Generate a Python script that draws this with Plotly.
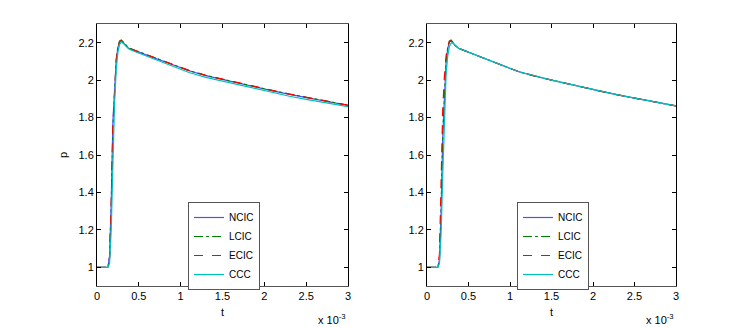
import plotly.graph_objects as go

# time in units of 1e-3 s
t_ms = [0, 0.10, 0.13, 0.15, 0.17, 0.19, 0.21, 0.23, 0.25, 0.27, 0.29, 0.31, 0.34, 0.38,
        0.45, 0.55, 0.7, 0.9, 1.1, 1.3, 1.5, 1.7, 1.9, 2.1, 2.3, 2.5, 2.7, 2.85, 3.0]

# left panel
left_ncic = [1.0, 1.0, 1.0, 1.06, 1.35, 1.78, 1.98, 2.11, 2.175, 2.205, 2.21, 2.20, 2.185, 2.17,
             2.158, 2.142, 2.118, 2.083, 2.05, 2.024, 2.003, 1.982, 1.961, 1.943, 1.924, 1.907, 1.891, 1.878, 1.865]
left_lcic = [1.0, 1.0, 1.0, 1.05, 1.32, 1.74, 1.97, 2.11, 2.18, 2.21, 2.215, 2.205, 2.187, 2.172,
             2.16, 2.143, 2.119, 2.084, 2.051, 2.025, 2.004, 1.983, 1.963, 1.944, 1.926, 1.909, 1.892, 1.879, 1.866]
left_ecic = [1.0, 1.0, 1.0, 1.05, 1.33, 1.76, 1.97, 2.10, 2.175, 2.205, 2.212, 2.202, 2.186, 2.171,
             2.159, 2.143, 2.12, 2.085, 2.052, 2.026, 2.005, 1.984, 1.963, 1.944, 1.925, 1.908, 1.892, 1.879, 1.866]
left_ccc = [1.0, 1.0, 1.0, 1.02, 1.20, 1.55, 1.88, 2.06, 2.15, 2.19, 2.205, 2.198, 2.182, 2.166,
            2.153, 2.136, 2.111, 2.075, 2.041, 2.015, 1.994, 1.973, 1.952, 1.933, 1.914, 1.897, 1.882, 1.87, 1.858]

# right panel
right_ncic = [1.0, 1.0, 1.0, 1.04, 1.30, 1.70, 1.95, 2.10, 2.17, 2.205, 2.212, 2.20, 2.185, 2.17,
              2.158, 2.14, 2.115, 2.08, 2.046, 2.021, 2.0, 1.98, 1.959, 1.94, 1.921, 1.904, 1.888, 1.875, 1.862]
right_lcic = [1.0, 1.0, 1.0, 1.04, 1.31, 1.72, 1.96, 2.10, 2.175, 2.21, 2.215, 2.202, 2.186, 2.17,
              2.158, 2.14, 2.115, 2.08, 2.046, 2.021, 2.0, 1.98, 1.959, 1.94, 1.921, 1.904, 1.888, 1.875, 1.862]
right_ecic = [1.0, 1.0, 1.0, 1.07, 1.45, 1.85, 2.02, 2.13, 2.185, 2.205, 2.21, 2.20, 2.184, 2.17,
              2.158, 2.14, 2.115, 2.08, 2.046, 2.021, 2.0, 1.98, 1.959, 1.94, 1.921, 1.904, 1.888, 1.875, 1.862]
right_ccc = [1.0, 1.0, 1.0, 1.02, 1.18, 1.50, 1.82, 2.03, 2.13, 2.18, 2.198, 2.20, 2.186, 2.17,
             2.158, 2.14, 2.115, 2.08, 2.046, 2.021, 2.0, 1.98, 1.959, 1.94, 1.921, 1.904, 1.888, 1.875, 1.862]

names = ["NCIC", "LCIC", "ECIC", "CCC"]
x_ticks = [0, 0.5, 1, 1.5, 2, 2.5, 3]
x_tick_text = ["0", "0.5", "1", "1.5", "2", "2.5", "3"]
y_ticks = [1, 1.2, 1.4, 1.6, 1.8, 2, 2.2]
y_tick_text = ["1", "1.2", "1.4", "1.6", "1.8", "2", "2.2"]

styles = [
    {"color": "#5050ff", "dash": "solid"},
    {"color": "#008000", "dash": "dashdot"},
    {"color": "#ff0000", "dash": "dash"},
    {"color": "#00bfbf", "dash": "solid"},
]

W, H = 747, 327
OFF = 8  # page body margin in the screenshot
FONT = "Liberation Sans, Arial, sans-serif"


def px(x):
    return (x - OFF) / W


def py(y):
    return 1 - (y - OFF) / H


fig = go.Figure()
panels = [
    ("x", "y", "legend", [left_ncic, left_lcic, left_ecic, left_ccc]),
    ("x2", "y2", "legend2", [right_ncic, right_lcic, right_ecic, right_ccc]),
]
for xa, ya, leg, series in panels:
    for name, values, style in zip(names, series, styles):
        fig.add_trace(go.Scatter(
            x=t_ms, y=values, name=name, mode="lines",
            line={"color": style["color"], "dash": style["dash"], "width": 1.2},
            xaxis=xa, yaxis=ya, legend=leg,
        ))

axis_common = dict(
    showgrid=False, zeroline=False, showline=True, linewidth=1, automargin=False,
    ticks="inside", ticklen=4, tickcolor="black", mirror="ticks",
    tickfont={"size": 11, "color": "black", "family": FONT},
)

x1 = [px(97), px(348)]
x2 = [px(427), px(676)]
ydom = [py(286), py(24)]

legend_common = dict(
    bgcolor="white", bordercolor="#555555", borderwidth=1,
    font={"size": 10, "color": "black", "family": FONT},
    itemwidth=30, tracegroupgap=0, xanchor="left", yanchor="top",
)

fig.update_layout(
    width=W, height=H,
    margin={"l": 0, "r": 0, "t": 0, "b": 0},
    paper_bgcolor="white", plot_bgcolor="white",
    font={"family": FONT, "color": "black", "size": 11},
    xaxis={**axis_common, "domain": x1, "range": [0, 3], "tickvals": x_ticks,
           "ticktext": x_tick_text, "linecolor": "#555555", "anchor": "y",
           "title": {"text": "t", "font": {"size": 11}, "standoff": 7}},
    yaxis={**axis_common, "domain": ydom, "range": [0.9, 2.3], "tickvals": y_ticks,
           "ticktext": y_tick_text, "linecolor": "black", "anchor": "x",
           "title": {"text": "p", "font": {"size": 11}, "standoff": 8}},
    xaxis2={**axis_common, "domain": x2, "range": [0, 3], "tickvals": x_ticks,
            "ticktext": x_tick_text, "linecolor": "#555555", "anchor": "y2",
            "title": {"text": "t", "font": {"size": 11}, "standoff": 7}},
    yaxis2={**axis_common, "domain": ydom, "range": [0.9, 2.3], "tickvals": y_ticks,
            "ticktext": y_tick_text, "linecolor": "black", "anchor": "x2"},
    legend={**legend_common, "x": px(188), "y": py(202)},
    legend2={**legend_common, "x": px(517), "y": py(202)},
    showlegend=True,
)

for xr in (x1, x2):
    fig.add_annotation(
        text="x 10<sup>-3</sup>", x=xr[1], y=py(328), xref="paper", yref="paper",
        xanchor="right", yanchor="bottom", showarrow=False,
        font={"size": 11, "color": "black", "family": FONT},
    )

fig.write_html("out.html")
